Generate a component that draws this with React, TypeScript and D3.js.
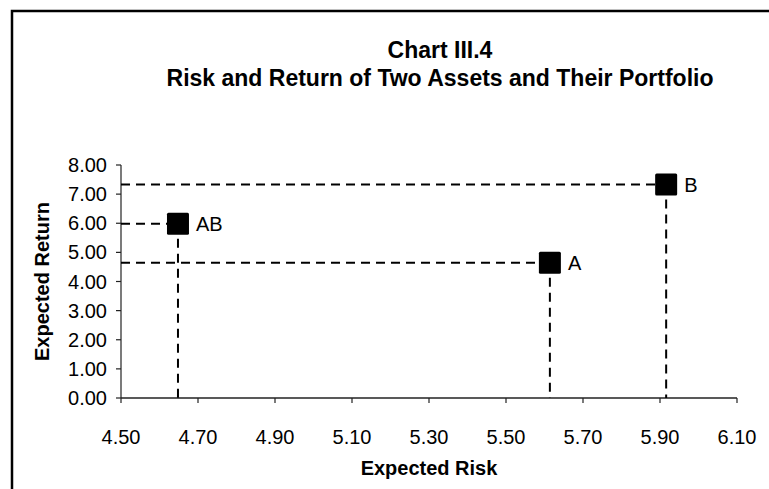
import React from "react";
import * as d3 from "d3";

const pointLabels = ["AB", "A", "B"];
const riskValues = [4.648, 5.614, 5.916];
const returnValues = [5.98, 4.64, 7.33];
const xTicks = [4.5, 4.7, 4.9, 5.1, 5.3, 5.5, 5.7, 5.9, 6.1];
const yTicks = [0, 1, 2, 3, 4, 5, 6, 7, 8];
const titleLines = ["Chart III.4", "Risk and Return of Two Assets and Their Portfolio"];
const xTitle = "Expected Risk";
const yTitle = "Expected Return";

const W = 769;
const H = 489;
const left = 121;
const right = 737;
const top = 165;
const bottom = 398;
const font = "'Liberation Sans', Arial, sans-serif";

export default function App() {
  const x = d3.scaleLinear().domain([4.5, 6.1]).range([left, right]);
  const y = d3.scaleLinear().domain([0, 8]).range([bottom, top]);
  const pts = pointLabels.map((l, i) => ({ l, x: riskValues[i], y: returnValues[i] }));
  const ms = 22;
  return (
    <svg
      width={W}
      height={H}
      style={{ position: "absolute", left: 0, top: 0, background: "#fff" }}
      fontFamily={font}
    >
      <rect x={12} y={11} width={800} height={520} fill="#fff" stroke="#000" strokeWidth={2.5} />
      <text x={440} y={58} textAnchor="middle" fontWeight="bold" fontSize={23}>
        {titleLines[0]}
      </text>
      <text x={440} y={86} textAnchor="middle" fontWeight="bold" fontSize={23}>
        {titleLines[1]}
      </text>
      {/* axes */}
      <line x1={left} x2={left} y1={top} y2={bottom} stroke="#222" strokeWidth={1.2} />
      <line x1={left} x2={right} y1={bottom} y2={bottom} stroke="#222" strokeWidth={1.5} />
      {yTicks.map((t) => (
        <g key={"y" + t}>
          <line x1={left - 5} x2={left} y1={y(t)} y2={y(t)} stroke="#222" strokeWidth={1.2} />
          <text x={left - 14} y={y(t)} dy="0.35em" textAnchor="end" fontSize={20}>
            {d3.format(".2f")(t)}
          </text>
        </g>
      ))}
      {xTicks.map((t) => (
        <g key={"x" + t}>
          <line x1={x(t)} x2={x(t)} y1={bottom} y2={bottom + 5} stroke="#222" strokeWidth={1.2} />
          <text x={x(t)} y={437} dy="0.35em" textAnchor="middle" fontSize={20}>
            {d3.format(".2f")(t)}
          </text>
        </g>
      ))}
      <text x={429} y={468} dy="0.35em" textAnchor="middle" fontWeight="bold" fontSize={20}>
        {xTitle}
      </text>
      <text
        transform={`translate(42,${(top + bottom) / 2}) rotate(-90)`}
        dy="0.35em"
        textAnchor="middle"
        fontWeight="bold"
        fontSize={20}
      >
        {yTitle}
      </text>
      {/* dashed guides */}
      {pts.map((p) => (
        <g key={"d" + p.l}>
          <line x1={left} x2={x(p.x)} y1={y(p.y)} y2={y(p.y)} stroke="#000" strokeWidth={2} strokeDasharray="9,6" />
          <line x1={x(p.x)} x2={x(p.x)} y1={y(p.y)} y2={bottom} stroke="#000" strokeWidth={2} strokeDasharray="9,6" />
        </g>
      ))}
      {pts.map((p) => (
        <g key={"m" + p.l}>
          <rect x={x(p.x) - ms / 2} y={y(p.y) - ms / 2} width={ms} height={ms} fill="#000" rx={1.5} />
          <text x={x(p.x) + ms / 2 + 7} y={y(p.y)} dy="0.35em" fontSize={20}>
            {p.l}
          </text>
        </g>
      ))}
    </svg>
  );
}
